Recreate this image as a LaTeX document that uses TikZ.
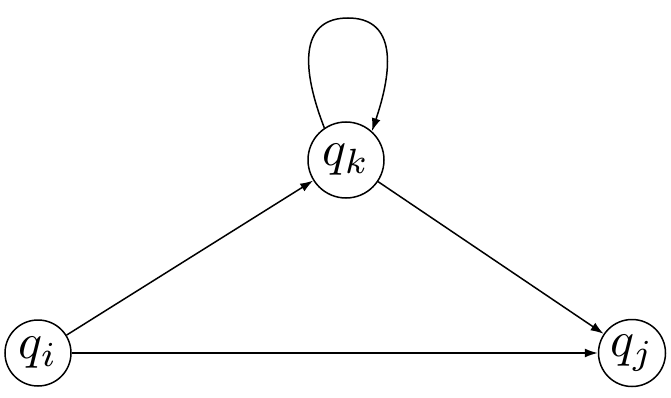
\documentclass[tikz,border=0pt]{standalone}
\usepackage{graphicx}
\usetikzlibrary{arrows.meta}
\newcommand{\bigq}[1]{\scalebox{5}{$#1$}}
\begin{document}
\begin{tikzpicture}[x=1pt,y=-1pt,
  state/.style={circle,draw,line width=1.5pt,inner sep=0pt},
  edge/.style={line width=1.5pt,-{Latex[length=13pt,width=9pt]}}]
\useasboundingbox (0,0) rectangle (671,398);
\node[state,minimum size=66pt] (qi) at (38,353) {\bigq{q_i}};
\node[state,minimum size=76pt] (qk) at (346,160) {\bigq{q_k}};
\node[state,minimum size=67pt] (qj) at (632,353) {\bigq{q_j}};
\coordinate (top) at (348,18);
\draw[edge] (qi) -- (qk);
\draw[edge] (qk) -- (qj);
\draw[edge] (qi) -- (qj);
\draw[edge] (qk.124) .. controls (298,60) and (304,18) .. (top)
  .. controls (392,18) and (396,60) .. (qk.48);
\end{tikzpicture}
\end{document}
